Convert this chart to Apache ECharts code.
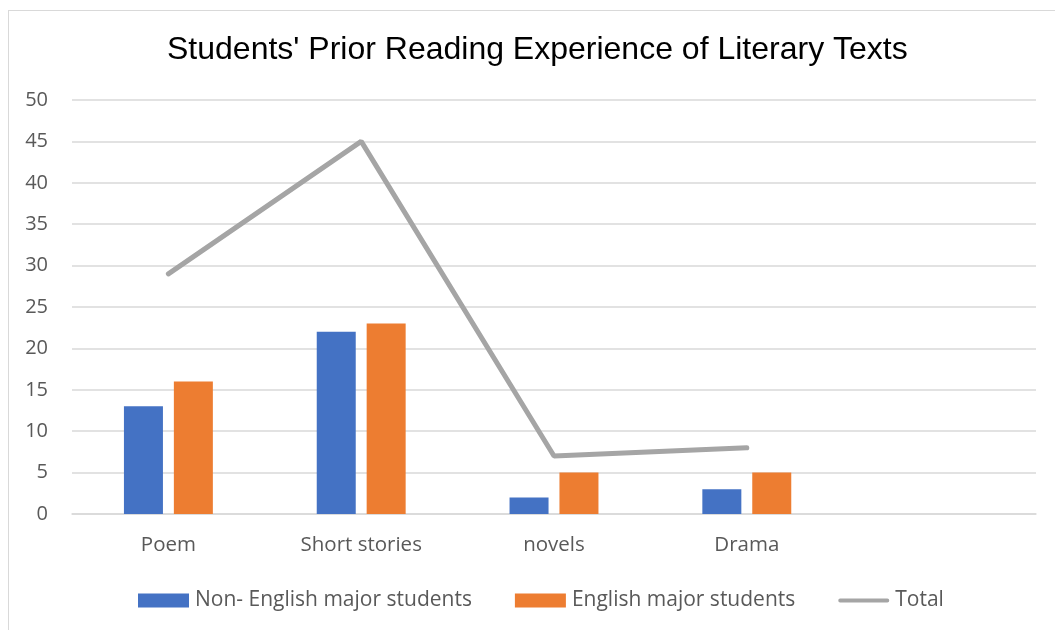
<!DOCTYPE html>
<html>
<head>
<meta charset="utf-8">
<script src="https://cdn.jsdelivr.net/npm/echarts@6/dist/echarts.min.js"></script>
<style>
html,body{margin:0;padding:0;background:#fff;}
#frame{position:absolute;left:8px;top:10px;width:1060px;height:630px;border:1px solid #d9d9d9;box-sizing:border-box;}
#chart{position:absolute;left:0;top:0;width:1055px;height:630px;}
</style>
</head>
<body>
<div id="frame"></div>
<div id="chart"></div>
<script>
const categories = ['Poem', 'Short stories', 'novels', 'Drama', ''];
const nonEnglish = [13, 22, 2, 3, null];
const english = [16, 23, 5, 5, null];
const total = [29, 45, 7, 8, null];
const yTicks = {min: 0, max: 50, interval: 5};

const chart = echarts.init(document.getElementById('chart'), null, {renderer: 'canvas'});
const labelFont = "'Open Sans', 'Noto Sans', sans-serif";
chart.setOption({
  animation: false,
  backgroundColor: 'transparent',
  title: {
    text: "Students' Prior Reading Experience of Literary Texts",
    left: 162, top: 29,
    textStyle: {fontFamily: "'Liberation Sans', Arial, sans-serif", fontSize: 32, fontWeight: 'normal', color: '#000'}
  },
  legend: {
    bottom: 14, left: 133,
    itemWidth: 51, itemHeight: 14, itemGap: 43,
    textStyle: {fontFamily: labelFont, fontSize: 21, color: '#595959', padding: [0, 0, 0, 1]},
    data: [
      {name: 'Non- English major students', icon: 'rect'},
      {name: 'English major students', icon: 'rect'},
      {name: 'Total', icon: 'path://M2,0 L52,0 A2,2 0 0 1 52,4 L2,4 A2,2 0 0 1 2,0 Z', itemStyle: {color: '#A5A5A5'}}
    ]
  },
  grid: {left: 72, right: 19, top: 100, bottom: 116},
  xAxis: {
    type: 'category', data: categories,
    axisLine: {lineStyle: {color: '#d9d9d9', width: 1.5}},
    axisTick: {show: false},
    axisLabel: {fontFamily: labelFont, fontSize: 20.5, color: '#595959', margin: 21}
  },
  yAxis: {
    type: 'value', min: yTicks.min, max: yTicks.max, interval: yTicks.interval,
    axisLine: {show: false}, axisTick: {show: false},
    axisLabel: {fontFamily: labelFont, fontSize: 20, color: '#595959', margin: 24},
    splitLine: {lineStyle: {color: '#d9d9d9', width: 1.5}}
  },
  series: [
    {name: 'Non- English major students', type: 'bar', data: nonEnglish, barWidth: 39, barGap: '28%', itemStyle: {color: '#4472C4'}},
    {name: 'English major students', type: 'bar', data: english, barWidth: 39, barGap: '28%', itemStyle: {color: '#ED7D31'}},
    {name: 'Total', type: 'line', data: total, showSymbol: false, symbol: 'none', lineStyle: {color: '#A5A5A5', width: 5, cap: 'round'}, itemStyle: {color: '#A5A5A5'}}
  ]
});
</script>
</body>
</html>
